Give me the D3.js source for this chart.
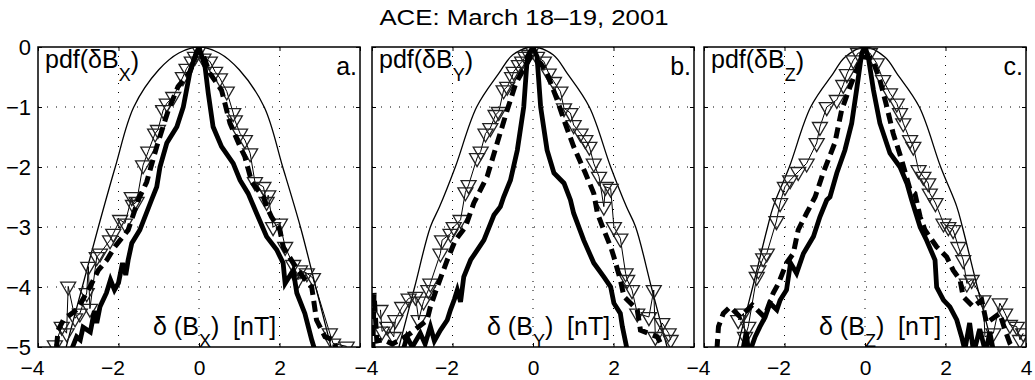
<!DOCTYPE html>
<html>
<head>
<meta charset="utf-8">
<script src="https://cdn.jsdelivr.net/npm/d3@7"></script>
<style>
  body { margin: 0; background: #fff; }
  text { font-family: "Liberation Sans", Arial, Helvetica, sans-serif; fill: #000; }
</style>
</head>
<body>
<div id="chart"></div>
<script>
// Chart text
const titleText = "ACE: March 18\u201319, 2001";
const components = ["X", "Y", "Z"];
const panelLetters = ["a.", "b.", "c."];

// Tick values
const xTicks = [-4, -2, 0, 2, 4];
const yTicks = [0, -1, -2, -3, -4, -5];
const xLabelTicks = [[-4, -2, 0, 2], [-4, -2, 0, 2], [-4, -2, 0, 2, 4]];
const gridX = [-2, 0, 2];
const gridY = [-1, -2, -3, -4];

// ---- panel a: dB_X ----
const gaussBx = [[-3.3,-5],[-2.9,-4],[-2.5,-3],[-2.08,-2],[-1.62,-1],[-1.0,-0.38],[-0.5,-0.1],[0,0],
  [0.5,-0.1],[1.0,-0.38],[1.62,-1],[2.08,-2],[2.52,-3],[2.9,-4],[3.28,-5]];
const triBx = [[-3.58,-4.97],[-3.41,-4.66],[-3.29,-4.77],[-3.25,-3.99],[-3.08,-4.52],[-2.96,-4.44],
  [-2.79,-4.1],[-2.75,-3.66],[-2.71,-4.36],[-2.54,-3.5],[-2.46,-3.44],[-2.21,-3.22],[-2.13,-3.11],
  [-1.96,-2.88],[-1.84,-2.94],[-1.67,-2.5],[-1.64,-2.63],[-1.55,-2.58],[-1.39,-1.97],[-1.26,-1.74],
  [-1.09,-1.44],[-1.02,-1.38],[-0.89,-1.05],[-0.8,-0.94],[-0.64,-0.83],[-0.4,-0.5],[-0.31,-0.36],
  [-0.18,-0.24],[-0.1,-0.16],[0,-0.05],[0.11,-0.19],[0.27,-0.24],[0.4,-0.41],[0.52,-0.52],
  [0.69,-0.74],[0.85,-1.1],[0.89,-1.22],[1.02,-1.44],[1.14,-1.55],[1.27,-1.77],[1.39,-2.25],
  [1.6,-2.33],[1.68,-2.58],[1.72,-2.47],[1.84,-3.0],[2.01,-2.94],[2.14,-3.33],[2.34,-3.63],
  [2.46,-3.88],[2.51,-3.72],[2.68,-3.77],[2.83,-3.85],[3.25,-4.77],[3.33,-4.94],[3.67,-4.99]];
const dashBx = [[-3.54,-5],[-3.5,-4.72],[-3.37,-4.55],[-3.04,-4.38],[-2.75,-4.05],[-2.5,-3.72],
  [-2.29,-3.55],[-2.09,-3.33],[-1.76,-3.05],[-1.51,-2.55],[-1.3,-2.25],[-1.05,-1.66],[-0.76,-1.05],
  [-0.52,-0.66],[-0.22,-0.41],[-0.06,-0.1],[0.1,-0.13],[0.27,-0.44],[0.56,-0.72],[0.77,-1.27],
  [1.02,-1.66],[1.14,-1.83],[1.31,-2.25],[1.6,-2.5],[1.68,-2.66],[1.8,-2.83],[2.01,-3.05],
  [2.09,-3.33],[2.34,-3.6],[2.58,-3.83],[2.8,-4.0],[2.92,-4.55],[3.13,-4.83],[3.33,-4.88],[3.42,-5.05]];
const solidBx = [[-3.2,-5.1],[-3.04,-4.83],[-2.95,-4.88],[-2.88,-4.67],[-2.7,-4.75],[-2.6,-4.4],
  [-2.54,-4.6],[-2.46,-4.33],[-2.3,-4.1],[-2.2,-3.88],[-2.1,-4.05],[-2.0,-3.93],[-1.9,-3.6],
  [-1.82,-3.8],[-1.76,-3.55],[-1.67,-3.27],[-1.47,-3.05],[-1.18,-2.55],[-1.05,-2.33],[-0.97,-2.0],
  [-0.8,-1.6],[-0.55,-1.33],[-0.39,-1.0],[-0.22,-0.4],[-0.08,-0.12],[0,0],[0.15,-0.33],[0.23,-0.77],
  [0.35,-1.33],[0.56,-1.66],[0.85,-1.94],[1.02,-2.22],[1.22,-2.44],[1.43,-2.77],[1.68,-3.16],
  [1.93,-3.38],[2.09,-3.6],[2.14,-3.94],[2.34,-3.72],[2.43,-4.1],[2.63,-4.44],[2.8,-4.88],[2.9,-5.1]];

// ---- panel b: dB_Y ----
const gaussBy = [[-3.33,-5],[-2.94,-4],[-2.55,-3],[-2.32,-2.66],[-1.93,-2],[-1.4,-1],[-0.85,-0.44],
  [-0.5,-0.13],[0,0],[0.5,-0.13],[0.85,-0.44],[1.4,-1],[1.93,-2],[2.32,-2.66],[2.55,-3],[2.94,-4],[3.33,-5]];
const triBy = [[-3.79,-4.38],[-3.75,-4.74],[-3.62,-4.66],[-3.46,-4.83],[-3.42,-4.55],[-3.25,-4.33],
  [-3.09,-4.19],[-2.92,-4.16],[-2.84,-4.55],[-2.72,-4.24],[-2.6,-4.05],[-2.55,-3.94],[-2.3,-3.44],
  [-2.26,-3.22],[-2.05,-3.11],[-1.97,-3.0],[-1.8,-2.88],[-1.68,-2.42],[-1.6,-2.3],[-1.39,-1.85],
  [-1.3,-1.74],[-1.18,-1.44],[-1.06,-1.35],[-0.93,-1.13],[-0.85,-1.08],[-0.73,-0.72],[-0.64,-0.66],
  [-0.52,-0.5],[-0.48,-0.41],[-0.35,-0.3],[-0.27,-0.24],[-0.19,-0.16],[-0.1,-0.13],[-0.02,-0.05],
  [0.1,-0.16],[0.27,-0.24],[0.39,-0.44],[0.52,-0.58],[0.68,-0.74],[0.77,-1.02],[0.93,-1.1],
  [1.01,-1.3],[1.18,-1.44],[1.3,-1.55],[1.4,-1.66],[1.51,-1.94],[1.64,-2.16],[1.76,-2.66],
  [1.8,-2.33],[1.93,-2.36],[2.01,-3.0],[2.17,-3.19],[2.3,-3.77],[2.34,-3.88],[2.46,-4.05],
  [2.59,-4.44],[2.88,-4.5],[3.0,-4.05],[3.04,-4.83],[3.21,-4.6],[3.37,-4.77],[3.42,-4.88]];
const dashBy = [[-3.98,-5.1],[-3.95,-4.1],[-3.88,-4.9],[-3.71,-4.88],[-3.5,-4.95],[-3.29,-4.88],
  [-3.04,-4.77],[-2.63,-4.55],[-2.55,-4.33],[-2.38,-4.0],[-2.13,-3.55],[-1.93,-3.22],[-1.68,-3.0],
  [-1.47,-2.6],[-1.14,-2.16],[-0.89,-1.6],[-0.64,-1.05],[-0.43,-0.61],[-0.06,-0.16],[0.19,-0.27],
  [0.35,-0.44],[0.6,-0.88],[0.77,-1.22],[1.01,-1.66],[1.3,-2.1],[1.51,-2.44],[1.6,-2.77],
  [1.76,-3.05],[1.93,-3.33],[2.01,-3.5],[2.17,-3.88],[2.26,-4.16],[2.59,-4.38],[2.67,-4.72],
  [3.09,-4.83],[3.25,-5.05]];
const solidBy = [[-3.25,-5.1],[-3.13,-4.83],[-3.0,-5.0],[-2.8,-4.77],[-2.68,-4.95],[-2.55,-4.66],
  [-2.45,-4.9],[-2.3,-4.72],[-2.13,-4.55],[-2.05,-4.38],[-1.95,-4.2],[-1.88,-4.05],[-1.8,-4.25],
  [-1.72,-3.83],[-1.55,-3.55],[-1.22,-3.22],[-0.97,-2.8],[-0.81,-2.66],[-0.73,-2.5],[-0.56,-2.22],
  [-0.39,-1.72],[-0.23,-1.0],[-0.14,-0.16],[0,0],[0.1,-0.16],[0.19,-1.0],[0.35,-1.72],[0.52,-2.1],
  [0.77,-2.27],[0.93,-2.55],[1.01,-2.77],[1.26,-3.22],[1.51,-3.6],[1.76,-3.83],[1.93,-4.0],
  [2.01,-4.27],[2.17,-4.44],[2.22,-4.66],[2.34,-5.05]];

// ---- panel c: dB_Z ----
const gaussBz = [[-3.17,-5],[-2.79,-4],[-2.42,-3],[-2.28,-2.66],[-1.88,-2],[-1.35,-1],[-0.79,-0.44],
  [-0.5,-0.17],[0,0],[0.5,-0.17],[0.79,-0.44],[1.35,-1],[1.88,-2],[2.28,-2.66],[2.42,-3],[2.79,-4],[3.17,-5]];
const triBz = [[-3.15,-4.55],[-3.02,-4.44],[-2.98,-4.83],[-2.9,-4.66],[-2.69,-3.83],[-2.65,-3.72],
  [-2.53,-3.52],[-2.44,-3.44],[-2.2,-2.9],[-2.11,-2.6],[-1.99,-2.33],[-1.86,-2.22],[-1.66,-2.08],
  [-1.45,-1.94],[-1.2,-1.6],[-1.12,-1.33],[-0.95,-1.0],[-0.7,-0.88],[-0.54,-0.63],[-0.45,-0.45],
  [-0.29,-0.22],[-0.17,-0.1],[0.12,-0.1],[0.29,-0.27],[0.45,-0.55],[0.62,-0.77],[0.79,-0.94],
  [0.87,-1.1],[0.95,-1.27],[1.12,-1.55],[1.2,-1.66],[1.33,-2.05],[1.45,-2.16],[1.57,-2.27],
  [1.61,-2.44],[1.75,-2.6],[1.95,-2.94],[2.07,-3.0],[2.19,-3.05],[2.32,-3.33],[2.44,-3.55],
  [2.53,-3.94],[2.65,-3.88],[2.94,-4.22],[2.98,-4.83],[3.19,-4.77],[3.35,-4.27],[3.48,-4.44],
  [3.6,-4.63],[3.77,-4.66],[3.85,-4.88],[3.93,-4.77]];
const dashBz = [[-3.68,-5.05],[-3.64,-4.66],[-3.52,-4.44],[-3.35,-4.33],[-3.1,-4.5],[-2.8,-4.3],
  [-2.5,-4.5],[-2.28,-4.1],[-2.15,-3.94],[-1.95,-3.6],[-1.78,-3.44],[-1.66,-3.05],[-1.45,-2.77],
  [-1.24,-2.5],[-1.04,-2.1],[-0.75,-1.6],[-0.58,-1.05],[-0.37,-0.66],[-0.08,-0.16],[0.17,-0.19],
  [0.37,-0.55],[0.54,-0.99],[0.7,-1.44],[0.91,-1.88],[1.12,-2.38],[1.24,-2.44],[1.37,-2.83],
  [1.49,-3.05],[1.78,-3.33],[2.03,-3.5],[2.19,-3.72],[2.36,-3.88],[2.44,-4.16],[2.69,-4.33],
  [2.9,-4.22],[3.02,-4.6],[3.35,-4.44],[3.48,-4.72],[3.6,-4.94],[3.75,-5.1]];
const solidBz = [[-3.05,-5.1],[-2.95,-4.75],[-2.9,-5.05],[-2.82,-5.0],[-2.73,-4.83],[-2.61,-4.66],
  [-2.48,-4.5],[-2.36,-4.27],[-2.19,-4.38],[-2.11,-4.22],[-1.95,-4.05],[-1.85,-3.6],[-1.7,-3.77],
  [-1.53,-3.44],[-1.28,-3.16],[-1.12,-2.83],[-0.95,-2.55],[-0.87,-2.5],[-0.7,-2.1],[-0.5,-1.72],
  [-0.33,-1.27],[-0.21,-0.72],[-0.08,-0.1],[0,0],[0.08,-0.16],[0.21,-0.72],[0.37,-1.27],
  [0.62,-1.77],[0.87,-2.0],[1.04,-2.27],[1.16,-2.55],[1.37,-3.0],[1.53,-3.22],[1.74,-3.55],
  [1.78,-4.0],[1.95,-4.22],[2.11,-4.33],[2.28,-4.55],[2.4,-4.83],[2.48,-5.05],[2.6,-4.6],
  [2.7,-5.1],[2.85,-4.7],[3.0,-5.1],[3.1,-4.75],[3.2,-5.1]];

const panels = [
  { gauss: gaussBx, tri: triBx, dash: dashBx, solid: solidBx },
  { gauss: gaussBy, tri: triBy, dash: dashBy, solid: solidBy },
  { gauss: gaussBz, tri: triBz, dash: dashBz, solid: solidBz }
];

// Layout
const width = 1035, height = 380;
const lefts = [38, 372, 704];
const panelTop = 47, pw = 322, ph = 300;

const svg = d3.select("#chart").append("svg")
  .attr("width", width)
  .attr("height", height);

const x = d3.scaleLinear().domain([-4, 4]).range([0, pw]);
const y = d3.scaleLinear().domain([-5, 0]).range([ph, 0]);

const line = d3.line().x(d => x(d[0])).y(d => y(d[1]));
const smooth = d3.line().x(d => x(d[0])).y(d => y(d[1])).curve(d3.curveCatmullRom);
const fmt = d => d3.format("d")(d);

// title (a bit wider than the font, like the original figure)
svg.append("text")
  .attr("transform", "translate(524,25) scale(1.12,1)")
  .attr("text-anchor", "middle")
  .style("font-size", "23px")
  .text(titleText);

panels.forEach((p, i) => {
  const g = svg.append("g").attr("transform", "translate(" + lefts[i] + "," + panelTop + ")");

  g.append("clipPath").attr("id", "clip" + i)
    .append("rect").attr("width", pw).attr("height", ph);

  // dotted grid
  g.selectAll(".gx").data(gridX).enter().append("line")
    .attr("x1", d => x(d)).attr("x2", d => x(d))
    .attr("y1", 0).attr("y2", ph)
    .attr("stroke", "#000").attr("stroke-width", 1).attr("stroke-dasharray", "1,8");
  g.selectAll(".gy").data(gridY).enter().append("line")
    .attr("x1", 0).attr("x2", pw)
    .attr("y1", d => y(d)).attr("y2", d => y(d))
    .attr("stroke", "#000").attr("stroke-width", 1).attr("stroke-dasharray", "1,8");

  const plot = g.append("g").attr("clip-path", "url(#clip" + i + ")");

  // gaussian reference
  plot.append("path").datum(p.gauss)
    .attr("d", smooth).attr("fill", "none")
    .attr("stroke", "#000").attr("stroke-width", 1.3);

  // triangles
  plot.append("path").datum(p.tri)
    .attr("d", line).attr("fill", "none")
    .attr("stroke", "#000").attr("stroke-width", 1);
  plot.selectAll(".tri").data(p.tri).enter().append("path")
    .attr("transform", d => "translate(" + x(d[0]) + "," + y(d[1]) + ")")
    .attr("d", "M-7.5,-4.3L7.5,-4.3L0,8.6Z")
    .attr("fill", "none").attr("stroke", "#222").attr("stroke-width", 1.3);

  // dashed thick
  plot.append("path").datum(p.dash)
    .attr("d", line).attr("fill", "none")
    .attr("stroke", "#000").attr("stroke-width", 5)
    .attr("stroke-dasharray", "11,6");

  // solid thick
  plot.append("path").datum(p.solid)
    .attr("d", line).attr("fill", "none")
    .attr("stroke", "#000").attr("stroke-width", 4.8)
    .attr("stroke-linejoin", "miter");

  // axes with inward ticks
  const labels = xLabelTicks[i];
  const xAxis = d3.axisBottom(x).tickValues(xTicks).tickSizeInner(-4).tickSizeOuter(0).tickPadding(13)
    .tickFormat(d => labels.includes(d) ? fmt(d) : "");
  const gx = g.append("g").attr("transform", "translate(0," + ph + ")").call(xAxis);
  gx.selectAll("text").style("font-size", "21px")
    .attr("dx", d => d < 0 ? -6 : 0);
  g.append("g").call(d3.axisTop(x).tickValues(xTicks).tickSizeInner(-4).tickSizeOuter(0).tickFormat(""));

  const yAxis = d3.axisLeft(y).tickValues(yTicks).tickSizeInner(-4).tickSizeOuter(0).tickPadding(7)
    .tickFormat(d => i === 0 ? fmt(d) : "");
  g.append("g").call(yAxis).selectAll("text").style("font-size", "22px");
  g.append("g").attr("transform", "translate(" + pw + ",0)")
    .call(d3.axisRight(y).tickValues(yTicks).tickSizeInner(-4).tickSizeOuter(0).tickFormat(""));

  g.selectAll(".domain").remove();
  g.selectAll(".tick line").attr("stroke", "#000").attr("stroke-width", 1);

  // frame
  g.append("rect").attr("width", pw).attr("height", ph)
    .attr("fill", "none").attr("stroke", "#000").attr("stroke-width", 1.5);

  // pdf label
  const t1 = g.append("text").attr("x", 7).attr("y", 21).style("font-size", "25px");
  t1.append("tspan").text("pdf(\u03B4B");
  t1.append("tspan").attr("dy", 13).style("font-size", "18px").text(components[i]);
  t1.append("tspan").attr("dy", -11).text(")");

  // panel letter
  g.append("text").attr("x", pw - 3).attr("y", 28)
    .attr("text-anchor", "end").style("font-size", "25px")
    .text(panelLetters[i]);

  // x label inside
  const t2 = g.append("text").attr("x", 115).attr("y", ph - 12)
    .style("font-size", "25px").style("white-space", "pre");
  t2.append("tspan").text("\u03B4 (B");
  t2.append("tspan").attr("dy", 12).style("font-size", "18px").text(components[i]);
  t2.append("tspan").attr("dy", -12).text(")  [nT]");
});
</script>
</body>
</html>
